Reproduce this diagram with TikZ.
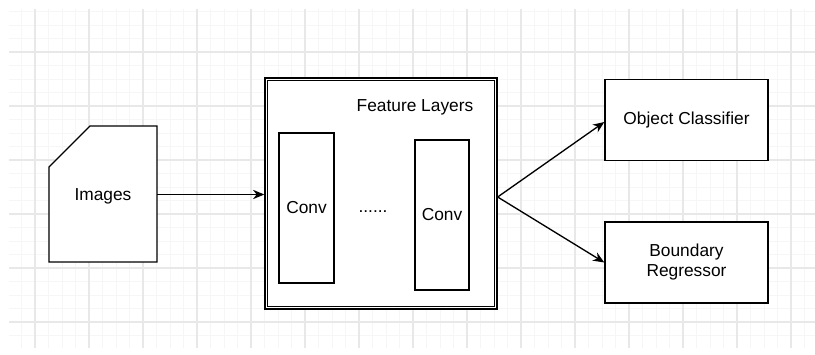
\documentclass[tikz,border=0pt]{standalone}
\usepackage{fontspec}
\setmainfont{Liberation Sans}
\usetikzlibrary{arrows.meta,calc}
\definecolor{gridmajor}{HTML}{E8E8E8}
\definecolor{gridminor}{HTML}{F6F6F6}
\begin{document}
\begin{tikzpicture}[x=0.75pt,y=-0.75pt,
  box/.style={draw=black,line width=1pt,fill=white,inner sep=0pt},
  lbl/.style={font=\fontsize{13}{15}\selectfont,align=center},
  link/.style={draw=black,line width=1pt,-{Stealth[length=8.5pt,width=7pt]}}]
  % canvas and background grid
  \useasboundingbox (0,0) rectangle (815,354);
  \fill[white] (0,0) rectangle (815,354);
  \begin{scope}
    \clip (9,9) rectangle (815,347);
    \foreach \i in {0,...,60} {
      \draw[gridminor,line width=0.6pt] (8+13.5*\i,0) -- (8+13.5*\i,354);
    }
    \foreach \j in {0,...,27} {
      \draw[gridminor,line width=0.6pt] (0,-2+13.5*\j) -- (815,-2+13.5*\j);
    }
    \foreach \i in {0,...,15} {
      \draw[gridmajor,line width=0.8pt] (35+54*\i,0) -- (35+54*\i,354);
    }
    \foreach \j in {0,...,6} {
      \draw[gridmajor,line width=0.8pt] (0,52+54*\j) -- (815,52+54*\j);
    }
  \end{scope}

  % input card with a cut corner
  \node[minimum width=81pt,minimum height=102pt,inner sep=0pt] (img) at (103,194.5) {};
  \draw[box] (49,167) -- (90,126) -- (157,126) -- (157,262) -- (49,262) -- cycle;
  \node[lbl] (imgtxt) at (103,196) {Images};

  % feature block with double border
  \node[box,minimum width=174pt,minimum height=173.25pt] (feat) at (381,193.5) {};
  \draw[black,line width=1pt] ($(feat.north west)+(3,3)$) rectangle ($(feat.south east)+(-3,-3)$);
  \node[lbl] (feattxt) at (415,107) {Feature Layers};
  \node[box,minimum width=41.25pt,minimum height=112.5pt,lbl] (conva) at (306.5,208) {Conv};
  \node[lbl] (dots) at (373,212) {......};
  \node[box,minimum width=40.5pt,minimum height=112.5pt,lbl] (convb) at (442,215) {Conv};

  % output heads
  \node[box,minimum width=122.25pt,minimum height=60.75pt,lbl] (cls) at (686.5,120) {Object Classifier};
  \node[box,minimum width=122.25pt,minimum height=60.75pt,lbl] (reg) at (686.5,262.5) {Boundary\\Regressor};

  % connectors
  \draw[link] (img.east) -- (img.east -| feat.west);
  \coordinate (split) at ($(feat.east)+(0,3.5)$);
  \draw[link] (split) -- ($(cls.west)+(0,2)$);
  \draw[link] (split) -- (reg.west);
\end{tikzpicture}
\end{document}
